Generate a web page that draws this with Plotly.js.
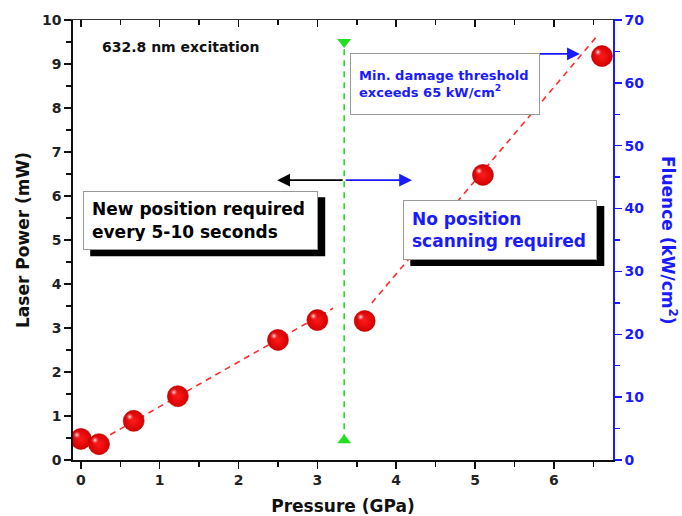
<!DOCTYPE html>
<html>
<head>
<meta charset="utf-8">
<script src="https://cdn.plot.ly/plotly-3.0.1.min.js"></script>
<style>
  html, body { margin: 0; padding: 0; background: #fff; }
  #chart { width: 682px; height: 516px; }
</style>
</head>
<body>
<div id="chart"></div>
<script>
// Measured laser power vs. pressure
const pressure = [0.0, 0.23, 0.67, 1.23, 2.5, 3.0, 3.6, 5.1, 6.61];
const power    = [0.48, 0.36, 0.89, 1.45, 2.73, 3.18, 3.16, 6.48, 9.18];

// Linear trends below and above the transition
const fitLowX  = [0.25, 3.2];
const fitLowY  = [0.45, 3.45];
const fitHighX = [3.69, 6.56];
const fitHighY = [3.57, 9.66];

// Transition marker
const transitionX = [3.34, 3.34];
const transitionY = [0.45, 9.5];

// Regime arrows (tail / head in GPa, level in mW)
const arrowLevel = 6.36;
const arrowLeftHead = 2.49;
const arrowRightHead = 4.2;
const damageArrow = { tail: 5.55, head: 6.33, level: 9.23 };

const xRange = [-0.1, 6.75];
const powerRange = [0, 10];
const fluenceRange = [0, 70];
const xTicks = [0, 1, 2, 3, 4, 5, 6];

const FONT = 'DejaVu Sans, Arial, sans-serif';
const BLUE = '#1a1aff';

const traces = [
  { x: fitLowX, y: fitLowY, mode: 'lines', line: { color: '#ff2a2a', width: 1.6, dash: '6px,5px' }, hoverinfo: 'skip' },
  { x: fitHighX, y: fitHighY, mode: 'lines', line: { color: '#ff2a2a', width: 1.6, dash: '6px,5px' }, hoverinfo: 'skip' },
  // transition line, on the mirrored top axis (same scale as the bottom one)
  { x: transitionX, y: transitionY, mode: 'lines+markers', xaxis: 'x2', yaxis: 'y',
    line: { color: '#22dd22', width: 1.6, dash: '6px,5px' },
    marker: { symbol: ['triangle-up', 'triangle-down'], size: 12, color: '#22dd22' }, hoverinfo: 'skip' },
  // empty trace so the fluence axis is laid out
  { x: [], y: [], xaxis: 'x', yaxis: 'y2', mode: 'markers', hoverinfo: 'skip' },
  { x: pressure, y: power, mode: 'markers',
    marker: { size: 21, color: '#d40000', gradient: { type: 'radial', color: '#ff1a1a' },
              line: { color: '#b00000', width: 0.6 } } },
  // specular highlight on each sphere, drawn on a slightly offset overlay
  { x: pressure, y: power, mode: 'markers', xaxis: 'x3', yaxis: 'y3',
    marker: { size: 8, color: 'rgba(255,60,60,0)', gradient: { type: 'radial', color: 'rgba(255,255,255,0.95)' } },
    hoverinfo: 'skip' }
];

const tickFont = { family: FONT, size: 14, weight: 'bold', color: '#222' };

function arrow(head, tail, level, color) {
  return { x: head, y: level, ax: tail, ay: level, xref: 'x', yref: 'y', axref: 'x', ayref: 'y',
           text: '', showarrow: true, arrowhead: 2, arrowsize: 1.6, arrowwidth: 1.6, arrowcolor: color };
}

const shapes = [];
function box(x, y, w, h, text, color, size, shadow) {
  const pad = 8, outerW = w + 2 * (pad + 1), outerH = h + 2 * (pad + 1);
  if (shadow) {
    shapes.push({ type: 'rect', xref: 'x', yref: 'y', xsizemode: 'pixel', ysizemode: 'pixel',
      xanchor: x, yanchor: y, x0: -outerW / 2 + 7, x1: outerW / 2 + 7, y0: -outerH / 2 - 6, y1: outerH / 2 - 6,
      fillcolor: '#000', line: { width: 0 }, layer: 'above' });
  }
  return { x: x, y: y, xref: 'x', yref: 'y', showarrow: false, align: 'left', valign: 'middle',
           width: w, height: h, borderpad: pad, borderwidth: 1, text: text, bgcolor: '#fff', bordercolor: '#999',
           font: { family: FONT, size: size, weight: 'bold', color: color } };
}

const annotations = [
  arrow(arrowLeftHead, transitionX[0], arrowLevel, '#000'),
  arrow(arrowRightHead, transitionX[0], arrowLevel, BLUE),
  arrow(damageArrow.head, damageArrow.tail, damageArrow.level, BLUE),
  box(1.52, 5.44, 217, 41, 'New position required<br>every 5-10 seconds', '#000', 17, true),
  box(5.32, 5.23, 176, 42, 'No position<br>scanning required', BLUE, 17, true),
  box(4.62, 8.55, 172, 44, 'Min. damage threshold<br>exceeds 65 kW/cm<sup>2</sup>', BLUE, 13, false),
  { x: 0.24, y: 9.39, xref: 'x', yref: 'y', xanchor: 'left', yanchor: 'middle', showarrow: false,
    text: '632.8 nm excitation', font: { family: FONT, size: 14, weight: 'bold', color: '#111' } },
  { x: 1, y: 0.5, xref: 'paper', yref: 'paper', xanchor: 'center', yanchor: 'middle', xshift: 56,
    showarrow: false, textangle: 90,
    text: 'Fluence (kW/cm<sup>2</sup>)', font: { family: FONT, size: 17, weight: 'bold', color: BLUE } }
];

const layout = {
  width: 682, height: 516,
  margin: { l: 73, r: 69, t: 20, b: 56 },
  paper_bgcolor: '#fff', plot_bgcolor: '#fff',
  showlegend: false,
  font: { family: FONT },
  xaxis: {
    range: xRange, tickvals: xTicks, ticks: 'outside', ticklen: 7, tickwidth: 1.5, tickcolor: '#111',
    minor: { dtick: 0.5, tick0: 0, ticks: 'outside', ticklen: 5, tickwidth: 1.5, tickcolor: '#111' },
    showgrid: false, zeroline: false, showline: true, linecolor: '#111', linewidth: 1.6,
    tickfont: tickFont,
    title: { text: 'Pressure (GPa)', standoff: 12, font: { family: FONT, size: 17, weight: 'bold', color: '#111' } }
  },
  xaxis2: {
    overlaying: 'x', side: 'top', range: xRange, tickvals: xTicks, ticks: 'inside', ticklen: 7,
    tickwidth: 1.5, tickcolor: '#111', showticklabels: false,
    minor: { dtick: 0.5, tick0: 0, ticks: 'inside', ticklen: 5, tickwidth: 1.5, tickcolor: '#111' },
    showgrid: false, zeroline: false, showline: true, linecolor: '#333', linewidth: 1.4
  },
  xaxis3: { overlaying: 'x', range: [xRange[0] + 0.05, xRange[1] + 0.05], visible: false },
  yaxis3: { overlaying: 'y', range: [powerRange[0] - 0.09, powerRange[1] - 0.09], visible: false },
  yaxis: {
    range: powerRange, dtick: 1, ticks: 'outside', ticklen: 7, tickwidth: 1.5, tickcolor: '#111',
    minor: { dtick: 0.5, ticks: 'outside', ticklen: 5, tickwidth: 1.5, tickcolor: '#111' },
    showgrid: false, zeroline: false, showline: true, linecolor: '#111', linewidth: 1.6,
    tickfont: tickFont,
    title: { text: 'Laser Power (mW)', standoff: 8, font: { family: FONT, size: 17, weight: 'bold', color: '#111' } }
  },
  yaxis2: {
    overlaying: 'y', side: 'right', range: fluenceRange, dtick: 10, ticks: 'outside', ticklen: 7,
    tickwidth: 1.5, tickcolor: BLUE,
    minor: { dtick: 5, ticks: 'outside', ticklen: 5, tickwidth: 1.5, tickcolor: BLUE },
    showgrid: false, zeroline: false, showline: true, linecolor: BLUE, linewidth: 1.6,
    tickfont: { family: FONT, size: 14, weight: 'bold', color: BLUE }
  },
  shapes: shapes,
  annotations: annotations
};

Plotly.newPlot('chart', traces, layout, { displayModeBar: false, staticPlot: true });
</script>
</body>
</html>
